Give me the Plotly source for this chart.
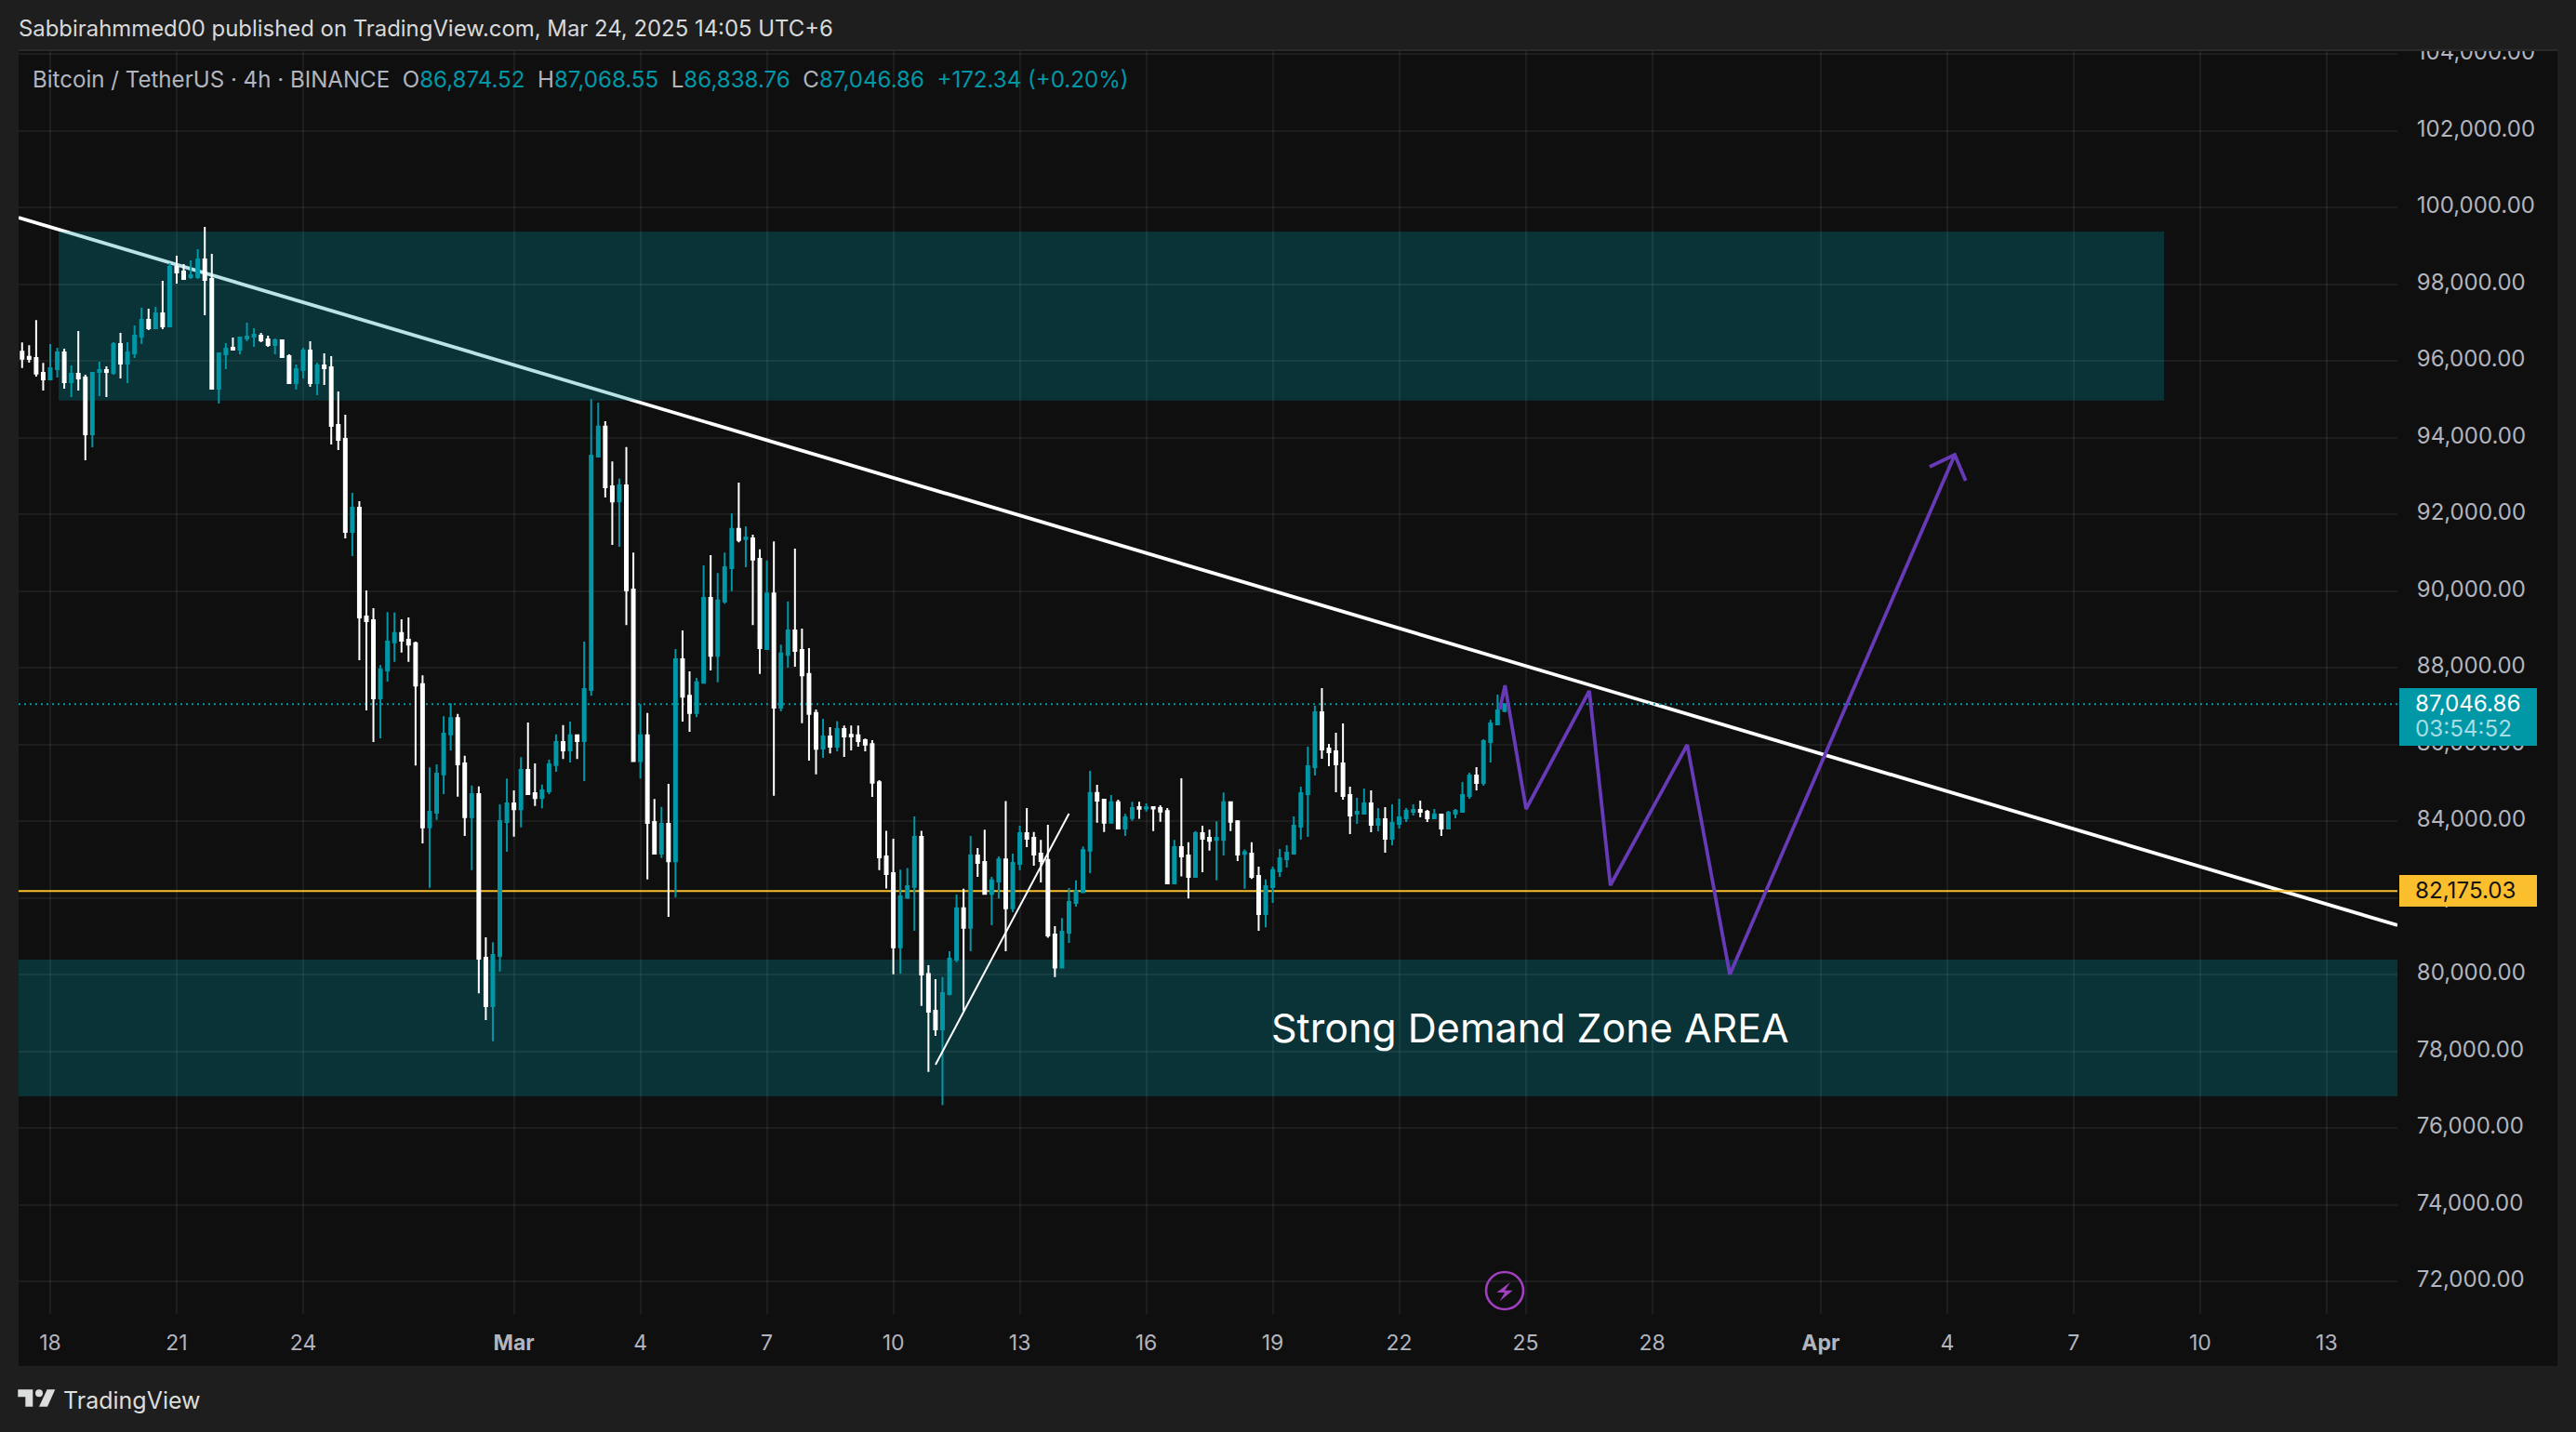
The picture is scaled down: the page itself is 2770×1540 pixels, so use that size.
import pandas as pd
import plotly.graph_objects as go

# BTC/USDT 4h candles, first bar Feb 17 08:00
bar_times = pd.date_range("2025-02-17 08:00", periods=212, freq="4h")

open_prices = [96235, 96105, 96073, 95685, 95515, 95782, 96218, 95443, 95661, 95564, 94085, 95709, 95758, 95685, 96437, 95927, 96194, 96630, 97067, 96849,
               97237, 96897, 98449, 98328, 98182, 98182, 98643, 98134, 95273, 96170, 96340, 96291, 96582, 96630, 96655, 96558, 96412, 96534, 96121, 95418,
               95758, 96267, 95418, 95879, 95830, 94327, 93964, 91539, 92170, 89333, 89239, 87198, 87929, 88659, 88903, 88729, 88636, 87569, 83836, 84218,
               85216, 86259, 86688, 85505, 84102, 84705, 80438, 79175, 80485, 83975, 84462, 84311, 85331, 84728, 84601, 84775, 85459, 86062, 85842, 86236,
               86085, 87419, 93506, 94283, 92729, 92335, 92752, 90039, 85563, 86236, 83975, 83152, 83928, 82954, 88219, 87268, 86816, 87604, 89819, 88311,
               89726, 90596, 91616, 91349, 91372, 90839, 88485, 89935, 86955, 88335, 88972, 88462, 87836, 86816, 85891, 86209, 85942, 86401, 86250, 86234,
               86109, 86008, 85015, 83078, 82644, 80707, 82001, 82285, 83587, 80014, 79054, 78570, 79489, 80390, 81726, 81217, 83103, 82936, 82101, 82427,
               83003, 81726, 82886, 83688, 83562, 83153, 82986, 81041, 80181, 81091, 81868, 82143, 83228, 84731, 84556, 83955, 84489, 83804, 84080, 84364,
               84330, 84364, 84339, 84264, 82377, 83320, 83103, 82544, 83688, 83562, 83512, 83512, 84489, 83996, 83145, 83153, 82569, 81576, 82277, 82690,
               83006, 83151, 83854, 84703, 85406, 86836, 85890, 85818, 85503, 84678, 84193, 84193, 84460, 83903, 84048, 83539, 83927, 84072, 84242, 84290,
               84242, 84072, 84169, 83806, 84193, 84242, 84654, 85187, 84993, 86060, 86521, 86874.52]

high_prices = [96477, 96404, 97059, 95944, 96437, 96340, 96315, 95879, 96776, 95637, 95709, 95976, 95855, 96485, 96727, 96485, 96921, 97382, 97358, 97406,
               98085, 98546, 98740, 98521, 98618, 98909, 99491, 98788, 96218, 96461, 96606, 96630, 96994, 96849, 96727, 96655, 96582, 96534, 96170, 95903,
               96340, 96509, 95952, 96194, 96121, 95200, 94594, 92558, 92339, 90012, 89552, 88068, 89448, 89436, 89262, 89309, 88682, 87801, 85401, 85482,
               86734, 87071, 86792, 85702, 84926, 84902, 80972, 80844, 84439, 85111, 84798, 85668, 86572, 85505, 84949, 85598, 86259, 86503, 86595, 86259,
               88682, 95002, 94909, 94422, 93378, 92926, 93749, 91001, 87048, 86816, 84578, 84369, 84972, 88485, 88972, 87906, 87732, 90665, 90932, 90468,
               91001, 92022, 92822, 91686, 91465, 91083, 90793, 91291, 88601, 89726, 91106, 89019, 88509, 86908, 86668, 86451, 86609, 86493, 86493, 86493,
               86150, 86109, 85065, 83746, 83537, 82736, 82778, 84122, 83746, 80240, 79881, 79931, 80607, 82085, 82235, 83612, 83295, 83779, 82544, 83078,
               84522, 83153, 83880, 84339, 83713, 83512, 83905, 81258, 81475, 82252, 82452, 83337, 85307, 84948, 84556, 84681, 84556, 84188, 84506, 84506,
               84464, 84381, 84414, 84339, 83512, 85115, 83446, 83738, 83880, 83779, 83996, 84748, 84506, 84022, 83262, 83446, 82811, 82477, 82811, 83272,
               83369, 84121, 84897, 85939, 87006, 87466, 86012, 86303, 86545, 84897, 84606, 84848, 84800, 84339, 84363, 84436, 84581, 84339, 84436, 84533,
               84290, 84315, 84193, 84266, 84315, 85018, 85260, 85406, 86133, 86642, 87297, 87068.55]

low_prices = [95814, 95952, 95588, 95224, 95515, 95564, 95273, 95055, 95224, 93406, 93746, 95079, 95055, 95637, 95540, 95418, 96073, 96437, 96800, 96824,
              96824, 96897, 98012, 98109, 98134, 98134, 97188, 95273, 94885, 95782, 96291, 96170, 96509, 96364, 96485, 96364, 96170, 96097, 95418, 95249,
              95540, 95321, 95103, 95370, 93818, 93673, 91370, 90909, 88194, 86885, 86062, 86155, 87639, 88149, 88393, 88149, 85447, 83418, 82259, 84033,
              84705, 85842, 84636, 83615, 82723, 79511, 78815, 78259, 80079, 83198, 83592, 83836, 84705, 84392, 84334, 84705, 85285, 85621, 85529, 85621,
              85042, 87268, 93506, 92439, 91199, 91152, 89111, 85552, 85111, 82479, 83129, 83036, 81505, 82015, 86595, 86329, 86711, 87604, 87929, 87616,
              89668, 89993, 91268, 90619, 89111, 87836, 88462, 84659, 86862, 87998, 88022, 86549, 85575, 85216, 85649, 85766, 85816, 85674, 85841, 85942,
              85816, 84631, 82719, 82243, 80006, 80023, 81968, 81141, 79180, 77460, 78403, 76592, 79455, 80323, 79054, 80607, 82544, 82085, 81283, 81985,
              80607, 81626, 82719, 83320, 82836, 82402, 80958, 79931, 80181, 80824, 81768, 82143, 82644, 83955, 83713, 83955, 83788, 83612, 84005, 84063,
              84247, 83738, 83980, 82377, 82377, 82561, 81985, 82519, 82669, 83228, 82452, 83103, 83738, 82961, 82235, 82494, 81141, 81233, 81868, 82545,
              82787, 83151, 83515, 83587, 85187, 85624, 85430, 84751, 84557, 83660, 83927, 84169, 83709, 83733, 83175, 83369, 83806, 83975, 84145, 84096,
              83975, 84072, 83612, 83806, 84072, 84242, 84581, 84800, 84921, 85527, 86521, 86838.76]

close_prices = [96057, 96049, 95669, 95515, 95806, 96218, 95443, 95661, 95540, 94085, 95685, 95758, 95709, 96437, 95927, 96218, 96655, 97067, 96849, 97237,
                96897, 98449, 98303, 98134, 98231, 98643, 98109, 95273, 96194, 96315, 96291, 96606, 96630, 96679, 96534, 96412, 96534, 96097, 95418, 95782,
                96267, 95418, 95879, 95806, 94303, 93940, 91539, 92170, 89309, 89212, 87198, 87952, 88682, 88903, 88706, 88601, 87535, 83836, 84242, 85239,
                86282, 86688, 85482, 84102, 84705, 80415, 79175, 80508, 83998, 84462, 84311, 85331, 84705, 84601, 84798, 85482, 86062, 85842, 86236, 86085,
                87442, 93529, 94283, 92706, 92335, 92752, 90016, 85563, 86236, 83952, 83152, 83928, 82954, 88219, 87245, 86816, 87616, 89819, 88311, 89749,
                90619, 91616, 91326, 91396, 90816, 88509, 89935, 86955, 88369, 88972, 88439, 87801, 86792, 85888, 86209, 85942, 86401, 86209, 86209, 86084,
                85992, 84998, 83053, 82619, 80707, 82035, 82302, 83587, 79998, 79029, 78570, 79514, 80415, 81726, 81217, 83103, 82911, 82101, 82452, 83003,
                81726, 82911, 83688, 83537, 83128, 82961, 81016, 80181, 81116, 81893, 82168, 83245, 84731, 84531, 83955, 84489, 83804, 84097, 84339, 84322,
                84355, 84330, 84247, 82377, 83320, 83078, 82544, 83688, 83537, 83487, 83562, 84489, 83980, 83128, 83187, 82544, 81576, 82302, 82719, 83030,
                83175, 83878, 84727, 85430, 86836, 85866, 85794, 85478, 84654, 84145, 84242, 84460, 83903, 84048, 83539, 83951, 84096, 84266, 84290, 84242,
                84072, 84169, 83806, 84218, 84266, 84678, 85187, 84993, 86084, 86545, 86884, 87046.86]

# drawings on the chart
trend_x = ["2025-02-17 06:00", "2025-04-14 16:20"]
trend_y = [99733, 81285]
small_line_x = ["2025-03-11 00:00", "2025-03-14 04:00"]
small_line_y = [77649, 84194]
path_x = ["2025-03-24 09:15", "2025-03-24 12:15", "2025-03-25 00:15", "2025-03-26 12:15", "2025-03-27 00:15",
          "2025-03-28 20:00", "2025-03-29 20:15", "2025-04-04 04:20", "2025-04-03 14:00", "2025-04-04 04:20", "2025-04-04 10:30"]
path_y = [86909, 87539, 84315, 87394, 82327, 85988, 80000, 93551, 93236, 93551, 92873]
supply_zone_x = ["2025-02-18 04:48", "2025-04-09 03:30"]
supply_zone_y = [94966, 99370]
demand_zone_x = ["2025-02-17 06:00", "2025-04-14 16:20"]
demand_zone_y = [76826, 80390]
support_price = 82175.03
last_price = 87046.86

x_range = ["2025-02-17 06:00", "2025-04-14 16:20"]
y_range = [71152, 104073]
x_tick_dates = ["2025-02-18", "2025-02-21", "2025-02-24", "2025-03-01", "2025-03-04", "2025-03-07", "2025-03-10", "2025-03-13", "2025-03-16",
                "2025-03-19", "2025-03-22", "2025-03-25", "2025-03-28", "2025-04-01", "2025-04-04", "2025-04-07", "2025-04-10", "2025-04-13"]
x_tick_labels = ["18", "21", "24", "<b>Mar</b>", "4", "7", "10", "13", "16", "19", "22", "25", "28", "<b>Apr</b>", "4", "7", "10", "13"]
y_ticks = list(range(72000, 106000, 2000))

W, H = 2770, 1540
FONT = "Inter"
FRAME = "#1e1e1e"
PANEL = "#0f0f0f"
TEAL = "#0097a7"
WHITE = "#ffffff"
ORANGE = "#fbbf2d"
PURPLE = "#673ab7"
GREY = "#b2b5be"
ZONE = "rgba(0,151,167,0.27)"


def fx(x):
    return x / W


def fy(y):
    return 1 - y / H


def poly(points):
    return "M" + " L".join(f"{fx(x):.5f},{fy(y):.5f}" for x, y in points) + " Z"


def frame_box(x0, y0, x1, y1, color=FRAME):
    return dict(type="rect", xref="paper", yref="paper", x0=fx(x0), x1=fx(x1), y0=fy(y0), y1=fy(y1),
                fillcolor=color, line_width=0, layer="above")


fig = go.Figure()

fig.add_trace(go.Candlestick(x=bar_times, open=open_prices, high=high_prices, low=low_prices, close=close_prices,
                             increasing=dict(line=dict(color=TEAL, width=2), fillcolor=TEAL),
                             decreasing=dict(line=dict(color=WHITE, width=2), fillcolor=WHITE),
                             whiskerwidth=0, hoverinfo="skip", showlegend=False))
fig.add_trace(go.Scatter(x=small_line_x, y=small_line_y, mode="lines", line=dict(color=WHITE, width=2),
                         hoverinfo="skip", showlegend=False))
fig.add_trace(go.Scatter(x=path_x, y=path_y, mode="lines", line=dict(color=PURPLE, width=3.8),
                         hoverinfo="skip", showlegend=False))

shapes = [
    # trendline sits under the zone so the zone tints it
    dict(type="line", xref="x", yref="y", x0=trend_x[0], x1=trend_x[1], y0=trend_y[0], y1=trend_y[1],
         line=dict(color=WHITE, width=3.8), layer="below"),
    dict(type="rect", xref="x", yref="y", x0=supply_zone_x[0], x1=supply_zone_x[1], y0=supply_zone_y[0], y1=supply_zone_y[1],
         fillcolor=ZONE, line_width=0, layer="below"),
    dict(type="rect", xref="x", yref="y", x0=demand_zone_x[0], x1=demand_zone_x[1], y0=demand_zone_y[0], y1=demand_zone_y[1],
         fillcolor=ZONE, line_width=0, layer="below"),
    dict(type="line", xref="x", yref="y", x0=x_range[0], x1=x_range[1], y0=support_price, y1=support_price,
         line=dict(color=ORANGE, width=2), layer="below"),
    dict(type="line", xref="x", yref="y", x0=x_range[0], x1=x_range[1], y0=last_price, y1=last_price,
         line=dict(color=TEAL, width=2, dash="2px,4px"), layer="below"),
    # outer frame
    frame_box(0, 0, W, 53),
    frame_box(0, 53, W, 55, "#2a2a2a"),
    frame_box(0, 1469, W, H),
    frame_box(0, 0, 20, H),
    frame_box(2750, 0, W, H),
    # price tags
    frame_box(2580, 740, 2728, 802, TEAL),
    frame_box(2580, 941, 2728, 975, ORANGE),
    # lightning icon
    dict(type="circle", xref="paper", yref="paper", x0=fx(1598), x1=fx(1638), y0=fy(1408), y1=fy(1368),
         line=dict(color="#a03fc0", width=2.6), fillcolor="rgba(0,0,0,0)", layer="above"),
    dict(type="path", xref="paper", yref="paper", line_width=0, fillcolor="#a03fc0", layer="above",
         path=poly([(1624, 1379), (1609.3, 1390), (1618, 1390), (1612.7, 1399.3), (1626.7, 1387.7), (1618.3, 1387.7)])),
    # TradingView logo
    dict(type="path", xref="paper", yref="paper", line_width=0, fillcolor="#dcdddd", layer="above",
         path=poly([(19.3, 1494.3), (35.3, 1494.3), (35.3, 1512.7), (27.3, 1512.7), (27.3, 1502.3), (19.3, 1502.3)])),
    dict(type="circle", xref="paper", yref="paper", x0=fx(38), x1=fx(46), y0=fy(1502.3), y1=fy(1494.3),
         line_width=0, fillcolor="#dcdddd", layer="above"),
    dict(type="path", xref="paper", yref="paper", line_width=0, fillcolor="#dcdddd", layer="above",
         path=poly([(50.7, 1494.3), (59.3, 1494.3), (51, 1512.7), (42, 1512.7)])),
]


def label(x, y, text, size, color, anchor="left"):
    return dict(xref="paper", yref="paper", x=fx(x), y=fy(y), text=text, showarrow=False, xanchor=anchor, yanchor="middle",
                font=dict(family=FONT, size=size, color=color), align="left")


def val(text):
    return f'<span style="color:{TEAL}">{text}</span>'


nb = "\u00a0"
legend_text = (f"Bitcoin / TetherUS · 4h · BINANCE{nb}{nb}O{val('86,874.52')}{nb}{nb}H{val('87,068.55')}{nb}{nb}"
               f"L{val('86,838.76')}{nb}{nb}C{val('87,046.86')}{nb}{nb}{val('+172.34 (+0.20%)')}")

annotations = [
    label(18, 31, "Sabbirahmmed00 published on TradingView.com, Mar 24, 2025 14:05 UTC+6", 23.9, "#d8d9db"),
    label(33, 85, legend_text, 24.1, GREY),
    label(66, 1506, "TradingView", 25, "#dcdddd"),
    label(2595, 756, "87,046.86", 24.2, WHITE),
    label(2595, 784, "03:54:52", 24.2, "#a6dde3"),
    label(2595, 957, "82,175.03", 24.2, "#131313"),
    label(1645, 1105, "Strong Demand Zone AREA", 43, WHITE, anchor="center"),
]

fig.update_layout(
    width=W, height=H,
    margin=dict(l=0, r=0, t=0, b=0),
    paper_bgcolor=PANEL, plot_bgcolor=PANEL,
    boxgap=0.44,
    showlegend=False,
    shapes=shapes,
    annotations=annotations,
    xaxis=dict(domain=[fx(20), fx(2578)], type="date", range=x_range, rangeslider=dict(visible=False),
               automargin=False,
               tickmode="array", tickvals=x_tick_dates, ticktext=x_tick_labels,
               showgrid=True, gridcolor="rgba(255,255,255,0.06)", gridwidth=2, zeroline=False, showline=False,
               ticks="outside", ticklen=10, tickcolor="rgba(0,0,0,0)",
               tickfont=dict(family=FONT, size=23, color=GREY)),
    yaxis=dict(domain=[fy(1413), fy(55)], range=y_range, side="right", anchor="x",
               automargin=False,
               tickmode="array", tickvals=y_ticks, tickformat=",.2f",
               showgrid=True, gridcolor="rgba(255,255,255,0.06)", gridwidth=2, zeroline=False, showline=False,
               ticks="outside", ticklen=15, tickcolor="rgba(0,0,0,0)", ticklabelshift=-2,
               tickfont=dict(family=FONT, size=24, color=GREY)),
)

fig.write_html("out.html", config={"displayModeBar": False},
               post_script="document.body.style.margin='0';document.body.style.background='#1e1e1e';")
